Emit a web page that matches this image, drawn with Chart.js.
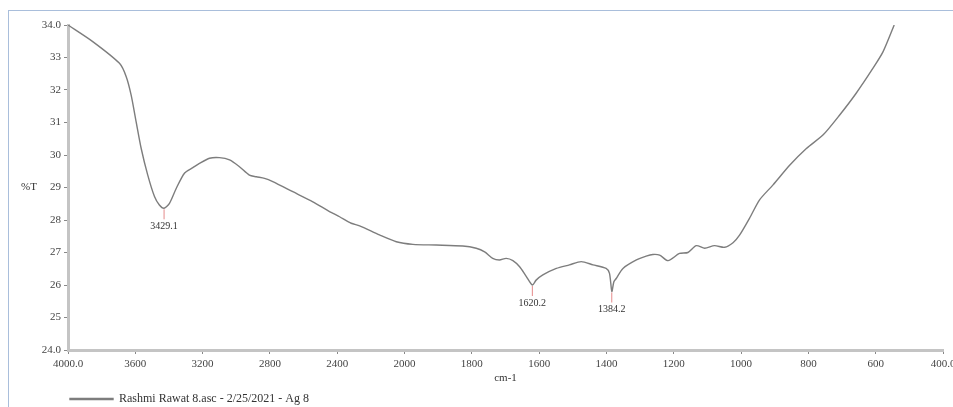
<!DOCTYPE html>
<html>
<head>
<meta charset="utf-8">
<script src="https://cdn.jsdelivr.net/npm/chart.js@4"></script>
<style>
  html, body { margin: 0; padding: 0; background: #fff; }
  #wrap { position: relative; width: 953px; height: 407px; }
  #frame { position: absolute; left: 8px; top: 10px; right: 0; bottom: 0;
           border-top: 1.5px solid #a9bedb; border-left: 1.5px solid #a9bedb; }
  canvas { position: absolute; left: 0; top: 0; }
</style>
</head>
<body>
<div id="wrap">
  <div id="frame"></div>
  <canvas id="ftirChart" width="953" height="407"></canvas>
</div>
<script>
// wavenumber (cm-1) and %T
const waveNumbers = [4000, 3853, 3694, 3654, 3625, 3595, 3565, 3526, 3486, 3457,
  3429, 3397, 3357, 3308, 3258, 3219, 3159, 3100, 3040, 2981,
  2922, 2881, 2832, 2783, 2664, 2545, 2446, 2386, 2317, 2267,
  2149, 2049, 1975, 1906, 1827, 1787, 1762, 1738, 1718, 1698,
  1678, 1658, 1638, 1620, 1609, 1589, 1549, 1510, 1475, 1440,
  1401, 1391, 1384, 1378, 1371, 1351, 1311, 1282, 1262, 1242,
  1217, 1183, 1158, 1133, 1108, 1079, 1049, 1024, 1004, 975,
  945, 905, 855, 806, 756, 707, 658, 608, 578, 545];
const transmittance = [34.0, 33.49, 32.82, 32.41, 31.85, 31.02, 30.2, 29.38, 28.72, 28.46,
  28.36, 28.51, 28.97, 29.44, 29.61, 29.74, 29.9, 29.92, 29.85, 29.64,
  29.38, 29.33, 29.28, 29.18, 28.87, 28.56, 28.26, 28.1, 27.9, 27.82,
  27.54, 27.33, 27.25, 27.23, 27.2, 27.13, 27.02, 26.82, 26.77, 26.82,
  26.75, 26.56, 26.26, 26.0, 26.15, 26.31, 26.51, 26.62, 26.72, 26.62,
  26.51, 26.36, 25.8, 26.1, 26.2, 26.51, 26.77, 26.89, 26.94, 26.92,
  26.75, 26.97, 27.0, 27.21, 27.13, 27.21, 27.16, 27.3, 27.54, 28.05,
  28.62, 29.08, 29.69, 30.2, 30.62, 31.23, 31.9, 32.67, 33.18, 34.0];

const peakWaves = [3429.1, 1620.2, 1384.2];
const peakValues = [28.36, 26.0, 25.8];
const peakLabels = ["3429.1", "1620.2", "1384.2"];

const xTickValues = [4000, 3600, 3200, 2800, 2400, 2000, 1800, 1600, 1400, 1200, 1000, 800, 600, 400];
const xTickLabels = ["4000.0", "3600", "3200", "2800", "2400", "2000", "1800", "1600", "1400", "1200", "1000", "800", "600", "400.0"];
const yTickValues = [24, 25, 26, 27, 28, 29, 30, 31, 32, 33, 34];
const yTickLabels = ["24.0", "25", "26", "27", "28", "29", "30", "31", "32", "33", "34.0"];

const seriesName = "Rashmi Rawat 8.asc - 2/25/2021 - Ag 8";
const splitAt = 2000; // axis is expanded 2x below 2000 cm-1

// linear scale with a break in slope at 2000 cm-1, like the instrument plot
class FtirScale extends Chart.LinearScale {
  static id = "ftir";
  static defaults = Chart.LinearScale.defaults;
  fwd(v) { return v > splitAt ? splitAt + (v - splitAt) / 2 : v; }
  inv(a) { return a > splitAt ? splitAt + (a - splitAt) * 2 : a; }
  getPixelForValue(v) {
    const lo = this.fwd(this.min), hi = this.fwd(this.max);
    return this.getPixelForDecimal((this.fwd(v) - lo) / (hi - lo));
  }
  getValueForPixel(p) {
    const lo = this.fwd(this.min), hi = this.fwd(this.max);
    return this.inv(lo + this.getDecimalForPixel(p) * (hi - lo));
  }
}
Chart.register(FtirScale);

const serif = "'Liberation Serif', 'DejaVu Serif', serif";

const extraText = {
  id: "extraText",
  afterDatasetsDraw(chart) {
    const ctx = chart.ctx;
    const x = chart.scales.x, y = chart.scales.y;
    ctx.save();
    // peak picks
    peakWaves.forEach((w, i) => {
      const px = x.getPixelForValue(w);
      const py = y.getPixelForValue(peakValues[i]);
      ctx.strokeStyle = "#e58a8a";
      ctx.lineWidth = 1;
      ctx.beginPath();
      ctx.moveTo(px, py + 1);
      ctx.lineTo(px, py + 11);
      ctx.stroke();
      ctx.fillStyle = "#333";
      ctx.font = "10px " + serif;
      ctx.textAlign = "center";
      ctx.textBaseline = "middle";
      ctx.fillText(peakLabels[i], px, py + 18);
    });
    // horizontal y title
    ctx.fillStyle = "#333";
    ctx.font = "11px " + serif;
    ctx.textAlign = "center";
    ctx.textBaseline = "middle";
    ctx.fillText("%T", 29, (y.top + y.bottom) / 2);
    ctx.restore();
  },
};

const ctx = document.getElementById("ftirChart").getContext("2d");

new Chart(ctx, {
  type: "line",
  data: {
    datasets: [
      {
        label: seriesName,
        data: waveNumbers.map((w, i) => ({ x: w, y: transmittance[i] })),
        borderColor: "#7d7d7d",
        backgroundColor: "#7d7d7d",
        borderWidth: 1.4,
        pointRadius: 0,
        tension: 0.25,
        fill: false,
      },
    ],
  },
  options: {
    responsive: false,
    animation: false,
    layout: { padding: { top: 25, right: 0, left: 0, bottom: -8 } },
    plugins: {
      tooltip: { enabled: false },
      legend: {
        position: "bottom",
        align: "start",
        fullSize: false,
        labels: {
          boxWidth: 43,
          boxHeight: 1,
          padding: 2,
          color: "#333",
          font: { family: serif, size: 12 },
        },
      },
    },
    scales: {
      x: {
        type: "ftir",
        min: 400,
        max: 4000,
        reverse: true,
        afterBuildTicks: (s) => {
          s.ticks = xTickValues.map((v) => ({ value: v }));
        },
        afterFit: (s) => {
          s.height = 41;
          s.paddingLeft = 0;
          s.paddingRight = 10;
        },
        border: { color: "#c4c4c4", width: 3 },
        grid: { drawOnChartArea: false, tickLength: 4, color: "#888" },
        ticks: {
          autoSkip: false,
          maxRotation: 0,
          padding: 4,
          color: "#444",
          font: { family: serif, size: 11 },
          callback: (v) => xTickLabels[xTickValues.indexOf(v)],
        },
        title: {
          display: true,
          text: "cm-1",
          color: "#333",
          font: { family: serif, size: 11 },
          padding: { top: 0, bottom: 6 },
        },
      },
      y: {
        min: 24,
        max: 34,
        afterBuildTicks: (s) => {
          s.ticks = yTickValues.map((v) => ({ value: v }));
        },
        afterFit: (s) => {
          s.width = 68;
        },
        border: { color: "#c4c4c4", width: 3 },
        grid: { drawOnChartArea: false, tickLength: 4, color: "#888" },
        ticks: {
          padding: 3,
          color: "#444",
          font: { family: serif, size: 11 },
          callback: (v) => yTickLabels[yTickValues.indexOf(v)],
        },
      },
    },
  },
  plugins: [extraText],
});
</script>
</body>
</html>
